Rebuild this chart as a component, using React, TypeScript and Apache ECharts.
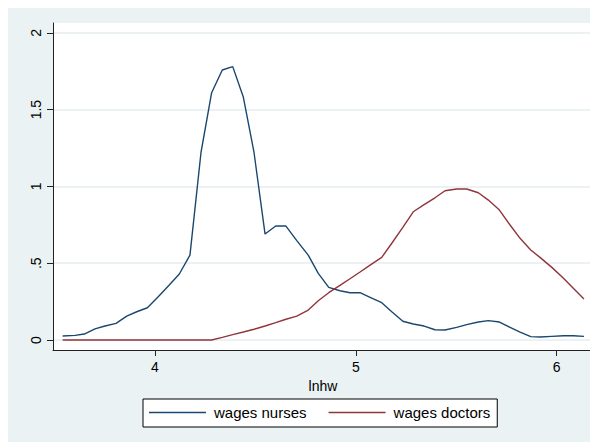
import React, { useEffect, useRef } from "react";
import * as echarts from "echarts";

const lnhw = [
  3.540, 3.602, 3.648, 3.701, 3.751, 3.806, 3.859, 3.909, 3.962, 4.016,
  4.071, 4.121, 4.174, 4.229, 4.282, 4.335, 4.387, 4.440, 4.493, 4.548,
  4.601, 4.652, 4.706, 4.763, 4.813, 4.865, 4.921, 4.971, 5.021, 5.071,
  5.129, 5.179, 5.234, 5.286, 5.340, 5.394, 5.444, 5.502, 5.552, 5.610,
  5.660, 5.715, 5.768, 5.818, 5.871, 5.917, 5.976, 6.034, 6.083, 6.136,
];

const wagesNurses = [
  0.026, 0.030, 0.039, 0.073, 0.091, 0.108, 0.156, 0.184, 0.210, 0.282,
  0.358, 0.430, 0.553, 1.221, 1.610, 1.758, 1.780, 1.580, 1.221, 0.690,
  0.742, 0.742, 0.647, 0.553, 0.434, 0.343, 0.321, 0.308, 0.308, 0.278,
  0.243, 0.184, 0.122, 0.104, 0.091, 0.067, 0.065, 0.082, 0.100, 0.117,
  0.126, 0.117, 0.082, 0.052, 0.022, 0.020, 0.024, 0.028, 0.028, 0.024,
];

const wagesDoctors = [
  0, 0, 0, 0, 0, 0, 0, 0, 0, 0,
  0, 0, 0, 0, 0, 0.017, 0.035, 0.052, 0.070, 0.091,
  0.113, 0.135, 0.156, 0.195, 0.256, 0.308, 0.356, 0.399, 0.443, 0.488,
  0.538, 0.630, 0.734, 0.835, 0.881, 0.926, 0.972, 0.983, 0.983, 0.959,
  0.911, 0.846, 0.749, 0.662, 0.586, 0.538, 0.473, 0.402, 0.337, 0.267,
];

const xTicks = [4, 5, 6];
const yTicks = [0, 0.5, 1, 1.5, 2];
const seriesNames = ["wages nurses", "wages doctors"];
const xTitle = "lnhw";
const colors = ["#1a476f", "#90353b"];

export default function App() {
  const ref = useRef<HTMLDivElement>(null);
  useEffect(() => {
    const chart = echarts.init(ref.current!, null, { renderer: "svg" });
    const font = "'Liberation Sans', Arial, sans-serif";
    const fmtY = (v: number) => (v === 0 ? "0" : String(v).replace(/^0\./, "."));
    chart.setOption({
      animation: false,
      backgroundColor: "#eaf2f3",
      textStyle: { fontFamily: font },
      grid: {
        left: 45,
        right: 5,
        top: 15,
        bottom: 92,
        show: true,
        backgroundColor: "#ffffff",
        borderWidth: 0,
      },
      xAxis: {
        type: "value",
        min: 3.492,
        max: 6.181,
        name: xTitle,
        nameLocation: "middle",
        nameGap: 24,
        nameTextStyle: { fontSize: 14, color: "#000", fontFamily: font },
        axisLine: { show: true, onZero: false, lineStyle: { color: "#222", width: 1 } },
        axisTick: { show: true, customValues: xTicks, length: 6, lineStyle: { color: "#222" } },
        axisLabel: { customValues: xTicks, fontSize: 14, color: "#000", margin: 10, fontFamily: font },
        splitLine: { show: false },
      },
      yAxis: {
        type: "value",
        min: -0.065,
        max: 2.064,
        interval: 0.5,
        axisLine: { show: true, onZero: false, lineStyle: { color: "#222", width: 1 } },
        axisTick: { show: true, customValues: yTicks, length: 6, lineStyle: { color: "#222" } },
        axisLabel: {
          customValues: yTicks,
          fontSize: 14,
          color: "#000",
          margin: 10,
          rotate: 90,
          fontFamily: font,
          formatter: fmtY,
        },
        splitLine: { show: true, lineStyle: { color: "#e6eef0", width: 1.5 } },
      },
      legend: {
        left: 135,
        top: 391,
        orient: "horizontal",
        icon: "rect",
        itemWidth: 57,
        itemHeight: 1.5,
        itemGap: 22,
        padding: [6, 7, 7, 6],
        backgroundColor: "#ffffff",
        borderColor: "#000",
        borderWidth: 1,
        borderRadius: 0,
        textStyle: { fontSize: 15, color: "#000", fontFamily: font, padding: [0, 0, 0, 3] },
        data: seriesNames,
      },
      series: [
        {
          name: seriesNames[0],
          type: "line",
          symbol: "none",
          color: colors[0],
          lineStyle: { color: colors[0], width: 1.4 },
          data: lnhw.map((x, i) => [x, wagesNurses[i]]),
        },
        {
          name: seriesNames[1],
          type: "line",
          symbol: "none",
          color: colors[1],
          lineStyle: { color: colors[1], width: 1.4 },
          data: lnhw.map((x, i) => [x, wagesDoctors[i]]),
        },
      ],
    });
    return () => chart.dispose();
  }, []);
  return <div ref={ref} style={{ width: 590, height: 434 }} />;
}
